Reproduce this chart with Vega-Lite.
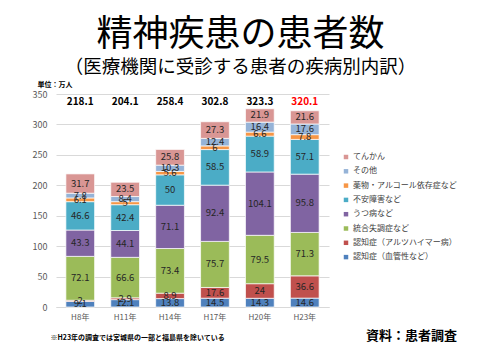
{
  "$schema": "https://vega.github.io/schema/vega-lite/v6.json",
  "width": 273,
  "height": 213,
  "autosize": {"type": "none"},
  "padding": {"left": 56, "top": 94, "right": 151, "bottom": 53},
  "background": "white",
  "config": {
    "font": "Noto Sans CJK JP",
    "view": {"stroke": null},
    "axisY": {
      "labelOverlap": false,
      "labelFontSize": 9,
      "labelColor": "#595959",
      "labelPadding": 9,
      "domain": false,
      "ticks": false,
      "gridColor": "#d9d9d9"
    }
  },
  "title": {
    "text": "精神疾患の患者数",
    "subtitle": "（医療機関に受診する患者の疾病別内訳）",
    "fontSize": 36,
    "fontWeight": "normal",
    "color": "#000000",
    "subtitleFontSize": 18.5,
    "subtitleColor": "#000000",
    "subtitlePadding": 4,
    "anchor": "middle",
    "dx": 48,
    "offset": 3,
    "font": "Noto Sans CJK JP",
    "subtitleFont": "Noto Sans CJK JP"
  },
  "datasets": {
    "segs": [
      {"year": "H8年", "cat": "認知症（血管性など）", "k": 1, "v": 9.1},
      {"year": "H8年", "cat": "認知症（アルツハイマー病）", "k": 2, "v": 2},
      {"year": "H8年", "cat": "統合失調症など", "k": 3, "v": 72.1},
      {"year": "H8年", "cat": "うつ病など", "k": 4, "v": 43.3},
      {"year": "H8年", "cat": "不安障害など", "k": 5, "v": 46.6},
      {"year": "H8年", "cat": "薬物・アルコール依存症など", "k": 6, "v": 6.1},
      {"year": "H8年", "cat": "その他", "k": 7, "v": 7.8},
      {"year": "H8年", "cat": "てんかん", "k": 8, "v": 31.7},
      {"year": "H11年", "cat": "認知症（血管性など）", "k": 1, "v": 12.1},
      {"year": "H11年", "cat": "認知症（アルツハイマー病）", "k": 2, "v": 2.9},
      {"year": "H11年", "cat": "統合失調症など", "k": 3, "v": 66.6},
      {"year": "H11年", "cat": "うつ病など", "k": 4, "v": 44.1},
      {"year": "H11年", "cat": "不安障害など", "k": 5, "v": 42.4},
      {"year": "H11年", "cat": "薬物・アルコール依存症など", "k": 6, "v": 5},
      {"year": "H11年", "cat": "その他", "k": 7, "v": 8.4},
      {"year": "H11年", "cat": "てんかん", "k": 8, "v": 23.5},
      {"year": "H14年", "cat": "認知症（血管性など）", "k": 1, "v": 13.8},
      {"year": "H14年", "cat": "認知症（アルツハイマー病）", "k": 2, "v": 8.9},
      {"year": "H14年", "cat": "統合失調症など", "k": 3, "v": 73.4},
      {"year": "H14年", "cat": "うつ病など", "k": 4, "v": 71.1},
      {"year": "H14年", "cat": "不安障害など", "k": 5, "v": 50},
      {"year": "H14年", "cat": "薬物・アルコール依存症など", "k": 6, "v": 5.6},
      {"year": "H14年", "cat": "その他", "k": 7, "v": 10.3},
      {"year": "H14年", "cat": "てんかん", "k": 8, "v": 25.8},
      {"year": "H17年", "cat": "認知症（血管性など）", "k": 1, "v": 14.5},
      {"year": "H17年", "cat": "認知症（アルツハイマー病）", "k": 2, "v": 17.6},
      {"year": "H17年", "cat": "統合失調症など", "k": 3, "v": 75.7},
      {"year": "H17年", "cat": "うつ病など", "k": 4, "v": 92.4},
      {"year": "H17年", "cat": "不安障害など", "k": 5, "v": 58.5},
      {"year": "H17年", "cat": "薬物・アルコール依存症など", "k": 6, "v": 6},
      {"year": "H17年", "cat": "その他", "k": 7, "v": 12.4},
      {"year": "H17年", "cat": "てんかん", "k": 8, "v": 27.3},
      {"year": "H20年", "cat": "認知症（血管性など）", "k": 1, "v": 14.3},
      {"year": "H20年", "cat": "認知症（アルツハイマー病）", "k": 2, "v": 24},
      {"year": "H20年", "cat": "統合失調症など", "k": 3, "v": 79.5},
      {"year": "H20年", "cat": "うつ病など", "k": 4, "v": 104.1},
      {"year": "H20年", "cat": "不安障害など", "k": 5, "v": 58.9},
      {"year": "H20年", "cat": "薬物・アルコール依存症など", "k": 6, "v": 6.6},
      {"year": "H20年", "cat": "その他", "k": 7, "v": 16.4},
      {"year": "H20年", "cat": "てんかん", "k": 8, "v": 21.9},
      {"year": "H23年", "cat": "認知症（血管性など）", "k": 1, "v": 14.6},
      {"year": "H23年", "cat": "認知症（アルツハイマー病）", "k": 2, "v": 36.6},
      {"year": "H23年", "cat": "統合失調症など", "k": 3, "v": 71.3},
      {"year": "H23年", "cat": "うつ病など", "k": 4, "v": 95.8},
      {"year": "H23年", "cat": "不安障害など", "k": 5, "v": 57.1},
      {"year": "H23年", "cat": "薬物・アルコール依存症など", "k": 6, "v": 7.8},
      {"year": "H23年", "cat": "その他", "k": 7, "v": 17.6},
      {"year": "H23年", "cat": "てんかん", "k": 8, "v": 21.6}
    ],
    "totals": [
      {"year": "H8年", "total": "218.1", "hl": false},
      {"year": "H11年", "total": "204.1", "hl": false},
      {"year": "H14年", "total": "258.4", "hl": false},
      {"year": "H17年", "total": "302.8", "hl": false},
      {"year": "H20年", "total": "323.3", "hl": false},
      {"year": "H23年", "total": "320.1", "hl": true}
    ]
  },
  "encoding": {
    "x": {
      "field": "year",
      "type": "nominal",
      "sort": null,
      "scale": {"domain": ["H8年", "H11年", "H14年", "H17年", "H20年", "H23年"], "paddingInner": 0.36, "paddingOuter": 0.22},
      "axis": {
        "labelAngle": 0,
        "labelFontSize": 8,
        "labelColor": "#595959",
        "labelPadding": 6,
        "ticks": false,
        "domainColor": "#d9d9d9",
        "title": "※H23年の調査では宮城県の一部と福島県を除いている",
        "titleFontSize": 7,
        "titleFontWeight": "bold",
        "titleColor": "#000000",
        "titleX": -6,
        "titleY": 32,
        "titleAlign": "left",
        "titleAnchor": "start",
        "titleBaseline": "alphabetic"
      }
    }
  },
  "layer": [
    {
      "data": {"name": "segs"},
      "mark": {"type": "bar", "stroke": "#ffffff", "strokeWidth": 0.7},
      "encoding": {
        "y": {
          "field": "v",
          "type": "quantitative",
          "stack": "zero",
          "scale": {"domain": [0, 350], "nice": false},
          "axis": {
            "values": [0, 50, 100, 150, 200, 250, 300, 350],
            "tickCount": 8,
            "title": "単位：万人",
            "titleAngle": 0,
            "titleFontSize": 7,
            "titleFontWeight": "bold",
            "titleColor": "#000000",
            "titleX": -19,
            "titleY": -7.5,
            "titleAlign": "left",
            "titleBaseline": "alphabetic"
          }
        },
        "order": {"field": "k", "type": "quantitative", "sort": "ascending"},
        "color": {
          "field": "cat",
          "type": "nominal",
          "scale": {
            "domain": ["てんかん", "その他", "薬物・アルコール依存症など", "不安障害など", "うつ病など", "統合失調症など", "認知症（アルツハイマー病）", "認知症（血管性など）"],
            "range": ["#D99694", "#95B3D7", "#F79646", "#4BACC6", "#8064A2", "#9BBB59", "#C0504D", "#4F81BD"]
          },
          "legend": {
            "orient": "none",
            "legendX": 286,
            "legendY": 59,
            "title": "資料：患者調査",
            "titleOrient": "bottom",
            "titleAnchor": "end",
            "titlePadding": 69,
            "titleFontSize": 13,
            "titleFontWeight": "bold",
            "titleColor": "#000000",
            "symbolType": "square",
            "symbolSize": 20,
            "symbolStrokeWidth": 0,
            "labelFontSize": 8,
            "labelColor": "#404040",
            "labelOffset": 3,
            "rowPadding": 6.3,
            "labelLimit": 200
          }
        }
      }
    },
    {
      "data": {"name": "segs"},
      "mark": {"type": "text", "fontSize": 9.5, "color": "#262626", "baseline": "middle"},
      "encoding": {
        "y": {
          "field": "v",
          "type": "quantitative",
          "stack": "zero",
          "bandPosition": 0.5,
          "axis": {
            "values": [0, 50, 100, 150, 200, 250, 300, 350],
            "tickCount": 8,
            "title": "単位：万人",
            "titleAngle": 0,
            "titleFontSize": 7,
            "titleFontWeight": "bold",
            "titleColor": "#000000",
            "titleX": -19,
            "titleY": -7.5,
            "titleAlign": "left",
            "titleBaseline": "alphabetic"
          }
        },
        "order": {"field": "k", "type": "quantitative", "sort": "ascending"},
        "text": {"field": "v", "type": "quantitative"}
      }
    },
    {
      "data": {"name": "totals"},
      "mark": {"type": "text", "fontSize": 10, "fontWeight": "bold", "baseline": "middle"},
      "encoding": {
        "y": {
          "datum": 337,
          "axis": {
            "values": [0, 50, 100, 150, 200, 250, 300, 350],
            "tickCount": 8,
            "title": "単位：万人",
            "titleAngle": 0,
            "titleFontSize": 7,
            "titleFontWeight": "bold",
            "titleColor": "#000000",
            "titleX": -19,
            "titleY": -7.5,
            "titleAlign": "left",
            "titleBaseline": "alphabetic"
          }
        },
        "text": {"field": "total", "type": "nominal"},
        "color": {
          "condition": {"test": "datum.hl", "value": "#FF0000"},
          "value": "#000000"
        }
      }
    }
  ]
}
